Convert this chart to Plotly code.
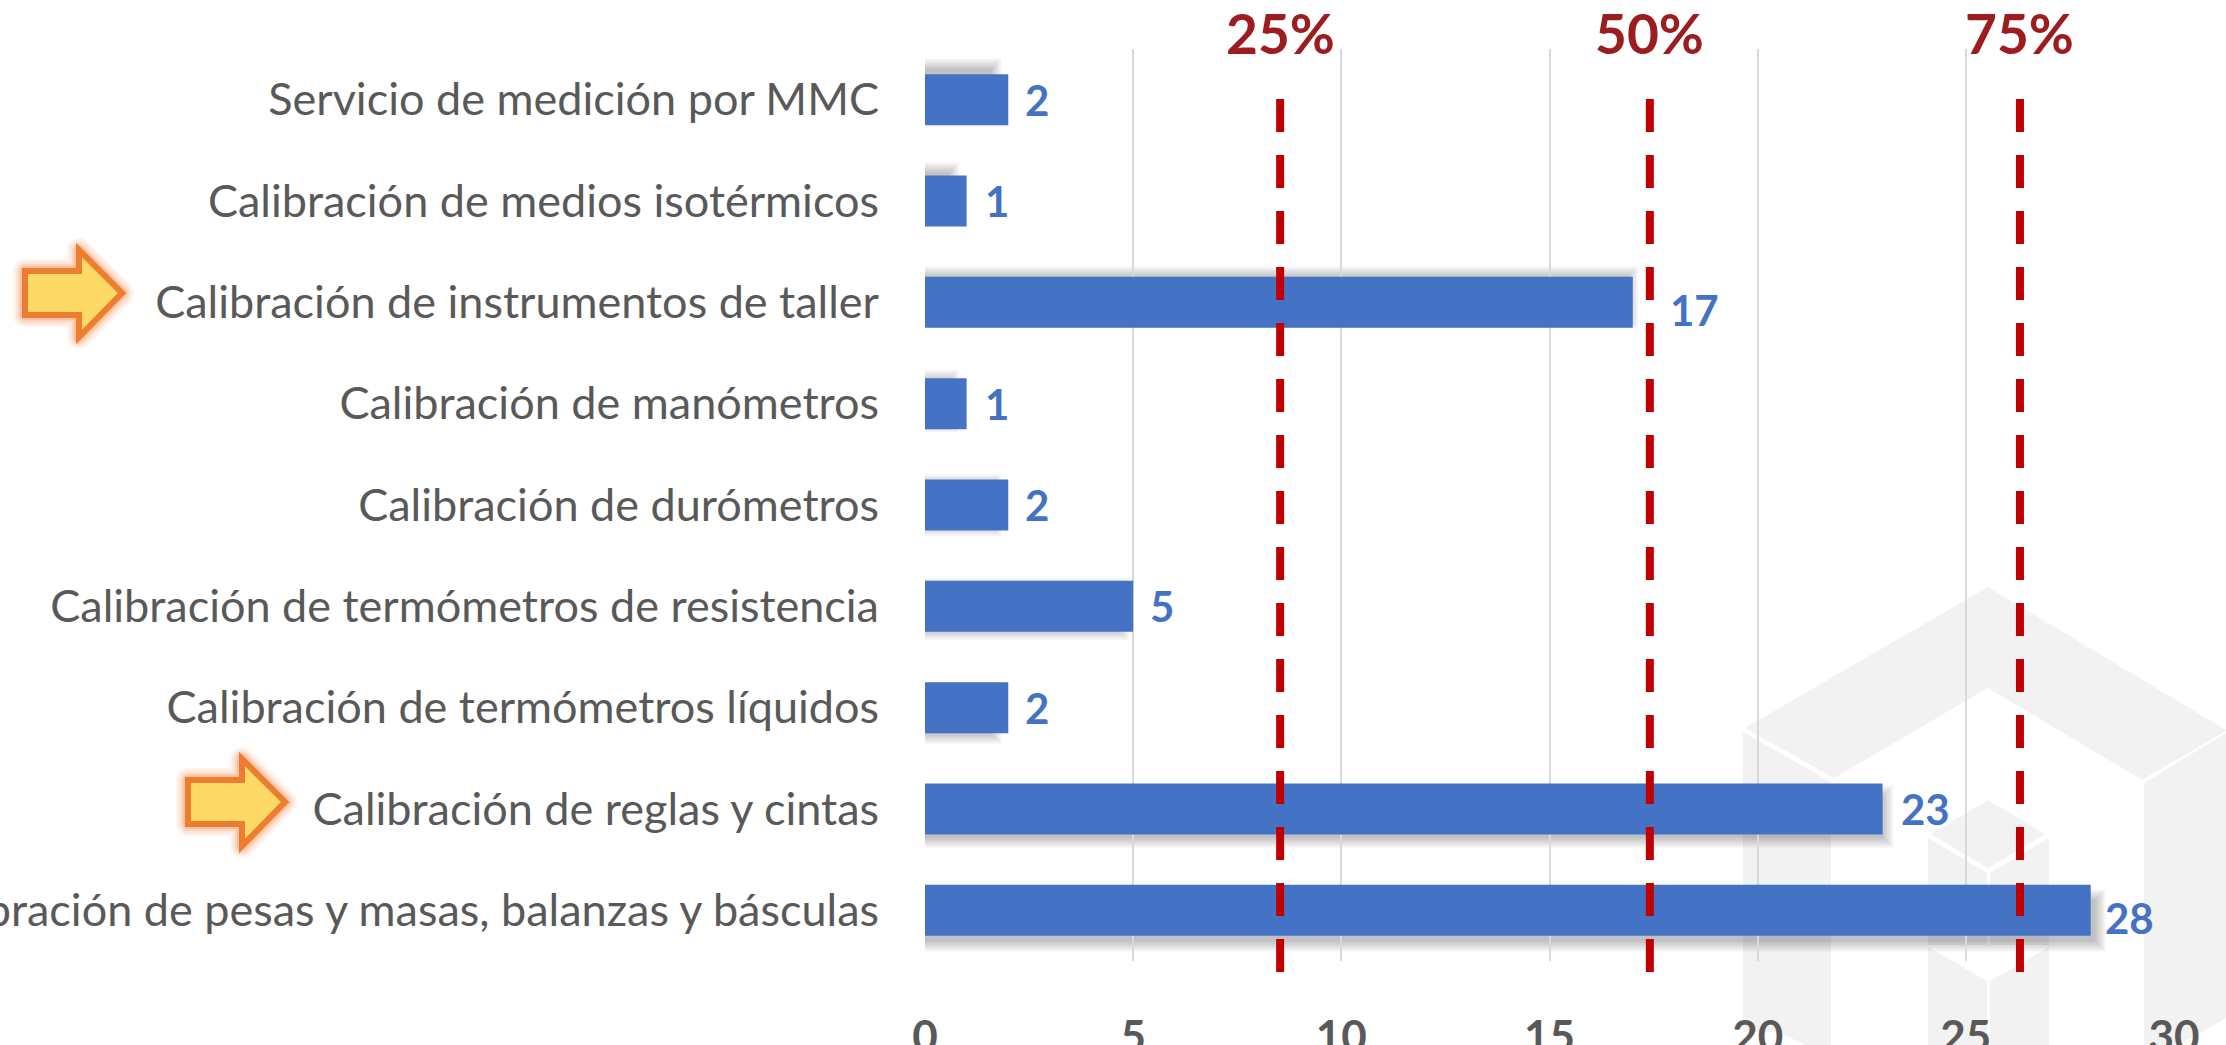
import plotly.graph_objects as go

# Data (bottom to top on the chart)
categories = [
    "Calibración de pesas y masas, balanzas y básculas",
    "Calibración de reglas y cintas",
    "Calibración de termómetros líquidos",
    "Calibración de termómetros de resistencia",
    "Calibración de durómetros",
    "Calibración de manómetros",
    "Calibración de instrumentos de taller",
    "Calibración de medios isotérmicos",
    "Servicio de medición por MMC",
]
values = [28, 23, 2, 5, 2, 1, 17, 1, 2]
quartile_labels = ["25%", "50%", "75%"]
quartile_values = [8.53, 17.41, 26.3]
x_ticks = [0, 5, 10, 15, 20, 25, 30]
label_xshift = [13, 17, 16, 16, 16, 17, 36, 17, 16]
label_yshift = [-8, 0, 0, 0, 0, 0, -8, 0, 0]

W, H = 2226, 1045
L, R, T, B = 925, 52, 49, 84
PW, PH = W - L - R, H - T - B
FONT = "Lato"


def px(x):
    return (x - L) / PW


def py(y):
    return (H - B - y) / PH


def poly(points):
    return "M " + " L ".join(f"{px(x):.5f},{py(y):.5f}" for x, y in points) + " Z"


shapes = []

# Watermark logo, behind everything
WM = "#F2F2F2"
watermark = [
    [(1988, 587), (2226, 730), (2226, 731), (2142, 780), (1988, 688), (1834, 778), (1745, 728)],
    [(1743, 732), (1831, 782), (1831, 1045), (1806, 1045), (1778, 1032), (1743, 1032)],
    [(2144, 783), (2226, 733), (2226, 1018), (2193, 1037), (2176, 1045), (2144, 1045)],
    [(1988, 800), (2045, 834), (1988, 868), (1931, 834)],
    [(1928, 838), (1987, 873), (1987, 945), (1928, 945)],
    [(1990, 873), (2049, 838), (2049, 945), (1990, 945)],
    [(1928, 947), (1987, 981), (1987, 1045), (1928, 1045)],
    [(1990, 981), (2049, 947), (2049, 1045), (1990, 1045)],
]
for pts in watermark:
    shapes.append(dict(type="path", xref="paper", yref="paper", path=poly(pts),
                       fillcolor=WM, line=dict(width=0), layer="below"))

# Bar shadows: a slightly enlarged, blurred copy of each bar
unit_x = PW / 30
unit_y = PH / len(categories)
for i, v in enumerate(values):
    x_end = v + (v - 16.3) * 0.02
    yc = 4.05 + (i - 4.05) * 1.025
    half = 0.25 * 1.025
    for d in (-5, -3, -1, 1, 3, 5):
        shapes.append(dict(type="rect", xref="x", yref="y", layer="below",
                           x0=0, x1=x_end + d / unit_x,
                           y0=yc - half - d / unit_y, y1=yc + half + d / unit_y,
                           fillcolor="rgba(0,0,0,0.045)", line=dict(width=0)))

# Dashed quartile markers
for q in quartile_values:
    shapes.append(dict(type="line", xref="x", yref="paper", x0=q, x1=q,
                       y0=py(99), y1=py(972), layer="above",
                       line=dict(color="#C00000", width=8, dash="33px,23px")))


# Highlight arrows
def arrow(dx, dy):
    return [(x + dx, y + dy) for x, y in
            [(188, 780), (242, 780), (242, 759), (285, 802), (242, 846), (242, 824), (188, 824)]]


for dx, dy in [(0, 0), (-163, -509)]:
    for w, a in [(24, 0.10), (19, 0.14), (14, 0.2), (10, 0.3)]:
        shapes.append(dict(type="path", xref="paper", yref="paper", path=poly(arrow(dx, dy)),
                           fillcolor="rgba(0,0,0,0)", layer="above",
                           line=dict(color=f"rgba(244,150,90,{a})", width=w)))
    shapes.append(dict(type="path", xref="paper", yref="paper", path=poly(arrow(dx, dy)),
                       fillcolor="#FFD966", layer="above",
                       line=dict(color="#ED7D31", width=6)))

annotations = []
for c, v, xs, ys in zip(categories, values, label_xshift, label_yshift):
    annotations.append(dict(x=v, y=c, xref="x", yref="y", text=str(v), showarrow=False,
                            xanchor="left", yanchor="middle", xshift=xs, yshift=ys, borderpad=0,
                            font=dict(family=FONT, size=42, color="#4472C4", weight="bold")))
for lab, q in zip(quartile_labels, quartile_values):
    annotations.append(dict(x=q, y=py(33), xref="x", yref="paper", text=lab, showarrow=False,
                            xanchor="center", yanchor="middle", borderpad=0,
                            font=dict(family=FONT, size=55, color="#9C1C20", weight="bold")))

fig = go.Figure(go.Bar(
    x=values, y=categories, orientation="h",
    marker=dict(color="#4472C4", line=dict(width=0)),
    hoverinfo="skip",
))
fig.update_layout(
    width=W, height=H, autosize=False,
    margin=dict(l=L, r=R, t=T, b=B, pad=0, autoexpand=False),
    paper_bgcolor="rgba(255,255,255,1)", plot_bgcolor="rgba(0,0,0,0)",
    bargap=0.497, showlegend=False,
    shapes=shapes, annotations=annotations,
    xaxis=dict(range=[0, 30], tickvals=x_ticks, showgrid=True, gridcolor="#D9D9D9", gridwidth=2,
               zeroline=False, showline=False, ticks="outside", ticklen=37, tickcolor="rgba(0,0,0,0)",
               automargin=False,
               tickfont=dict(family=FONT, size=44, color="#595959", weight="bold")),
    yaxis=dict(categoryorder="array", categoryarray=categories, showgrid=False, zeroline=False,
               showline=False, ticks="outside", ticklen=36, tickcolor="rgba(0,0,0,0)",
               tickfont=dict(family=FONT, size=45, color="#595959"), automargin=False),
)
post = """
document.documentElement.style.margin = '0';
document.body.style.margin = '0';
document.body.style.overflow = 'hidden';
document.querySelectorAll('.shapelayer path').forEach(function (p) {
  if ((p.style.stroke || '').indexOf('244, 150, 90') >= 0) { p.style.strokeLinejoin = 'round'; }
});
"""
fig.write_html("out.html", post_script=post, config={"displayModeBar": False})
